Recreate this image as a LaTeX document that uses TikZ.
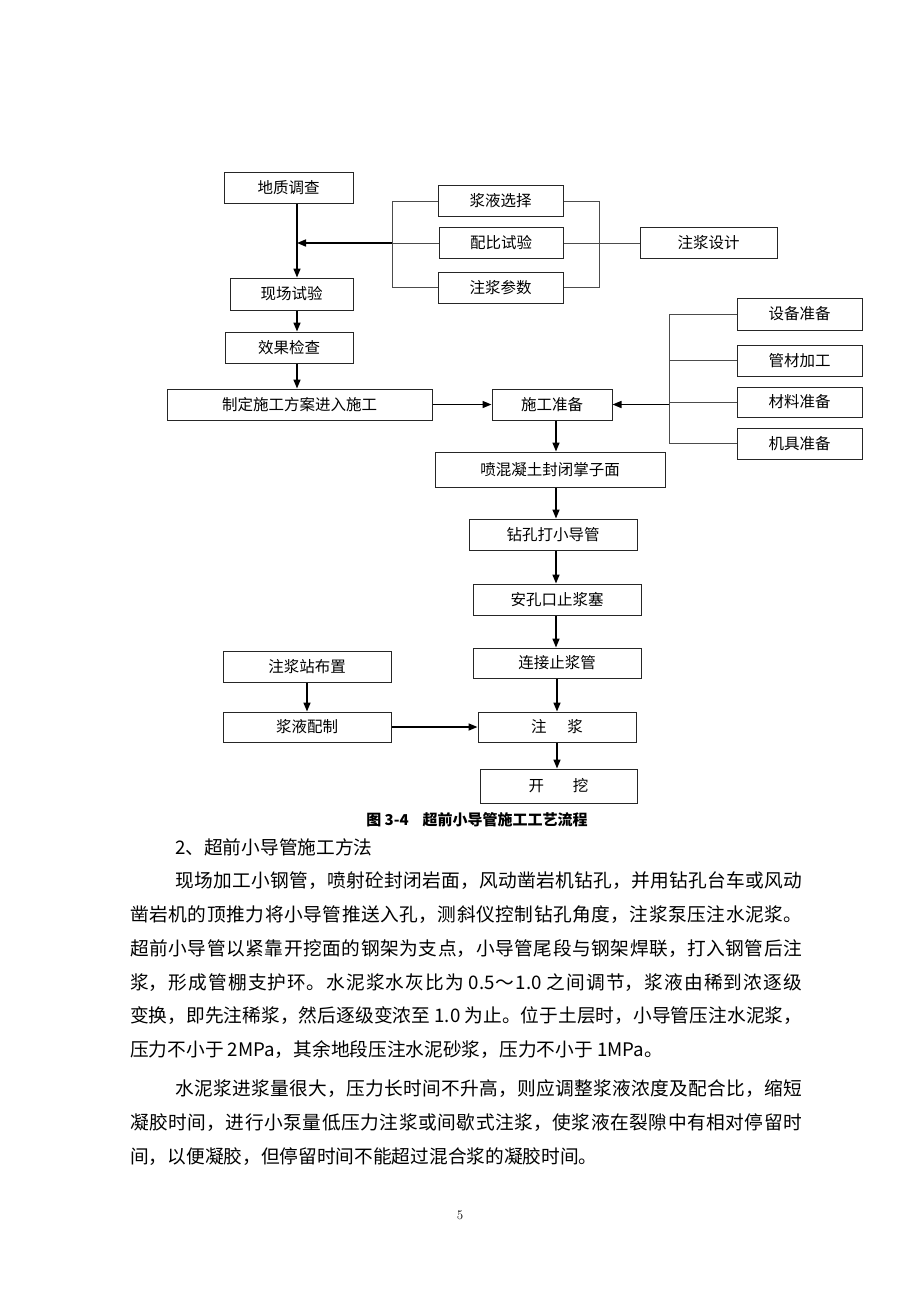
\documentclass[tikz,border=0pt]{standalone}
\usepackage{fontspec}
\newfontfamily\cjk{Noto Sans CJK SC}
\usetikzlibrary{arrows.meta}
\newcommand\jline[2]{\parbox{#1}{\XeTeXlinebreaklocale "zh"\XeTeXlinebreakskip=0pt plus 4pt\parfillskip=0pt\noindent #2}}
\tikzset{
  box/.style={draw=black!85, line width=1pt, inner sep=0pt, font=\cjk\fontsize{15.5}{18}\selectfont},
  arr/.style={line width=1.6pt, -{Triangle[length=9pt,width=7pt]}},
  thinln/.style={draw=black!70, line width=0.9pt},
  para/.style={inner sep=0pt, anchor=west, font=\cjk\fontsize{18.7}{22}\selectfont},
}
\begin{document}
\begin{tikzpicture}[x=1pt,y=-1pt]
\fill[white] (0,0) rectangle (920,1302);
\useasboundingbox (0,0) rectangle (920,1302);

% boxes
\node[box, minimum width=129pt, minimum height=31pt] (dz) at (288.5,187.5) {地质调查};
\node[box, minimum width=123pt, minimum height=32pt] (xc) at (291.5,294) {现场试验};
\node[box, minimum width=125pt, minimum height=31pt] (jy) at (500.5,201) {浆液选择};
\node[box, minimum width=124pt, minimum height=31pt] (pb) at (501,243) {配比试验};
\node[box, minimum width=125pt, minimum height=31pt] (zc) at (500.5,287.5) {注浆参数};
\node[box, minimum width=137pt, minimum height=31pt] (zs) at (708.5,243) {注浆设计};
\node[box, minimum width=128pt, minimum height=31pt] (xg) at (289,347.5) {效果检查};
\node[box, minimum width=265pt, minimum height=31pt] (zd) at (299.5,404.5) {制定施工方案进入施工};
\node[box, minimum width=120pt, minimum height=31pt] (sg) at (552,404.5) {施工准备};
\node[box, minimum width=125pt, minimum height=32pt] (sb) at (799.5,314) {设备准备};
\node[box, minimum width=125pt, minimum height=31pt] (gc) at (799.5,360.5) {管材加工};
\node[box, minimum width=125pt, minimum height=30pt] (cl) at (799.5,402) {材料准备};
\node[box, minimum width=125pt, minimum height=31pt] (jj) at (799.5,443.5) {机具准备};
\node[box, minimum width=230pt, minimum height=35pt] (ph) at (550,469.5) {喷混凝土封闭掌子面};
\node[box, minimum width=168pt, minimum height=31pt] (zk) at (553,534.5) {钻孔打小导管};
\node[box, minimum width=168pt, minimum height=31pt] (ak) at (557,599.5) {安孔口止浆塞};
\node[box, minimum width=168pt, minimum height=30pt] (lj) at (557,663) {连接止浆管};
\node[box, minimum width=168pt, minimum height=31pt] (zz) at (307,666.5) {注浆站布置};
\node[box, minimum width=168pt, minimum height=30pt] (jp) at (307,727) {浆液配制};
\node[box, minimum width=158pt, minimum height=30pt] (zj) at (557,727) {注\hspace{21pt}浆};
\node[box, minimum width=157pt, minimum height=34pt] (kw) at (558.5,786) {开\hspace{29pt}挖};

% axes for connectors
\coordinate (aL) at (297,0);
\coordinate (bl) at (392,0);
\coordinate (br) at (599,0);
\coordinate (bg) at (669,0);
\coordinate (aM) at (556,0);

% left column
\draw[arr] (dz.south -| aL) -- (xc.north -| aL);
\draw[arr] (xc.south -| aL) -- (xg.north -| aL);
\draw[arr] (xg.south -| aL) -- (zd.north -| aL);

% grouting design brackets
\draw[thinln] (jy.west) -- (jy.west -| bl) -- (zc.west -| bl) -- (zc.west);
\draw[thinln] (pb.west) -- (pb.west -| bl);
\draw[arr] (pb.west -| bl) -- (pb.west -| aL);
\draw[thinln] (jy.east) -- (jy.east -| br) -- (zc.east -| br) -- (zc.east);
\draw[thinln] (pb.east) -- (zs.west);

% preparation bracket
\draw[thinln] (sb.west) -- (sb.west -| bg) -- (jj.west -| bg) -- (jj.west);
\draw[thinln] (gc.west) -- (gc.west -| bg);
\draw[thinln] (cl.west) -- (cl.west -| bg);
\draw[arr] (sg.east -| bg) -- (sg.east);
\draw[arr] (zd.east) -- (sg.west);

% main column
\draw[arr] (sg.south -| aM) -- (ph.north -| aM);
\draw[arr] (ph.south -| aM) -- (zk.north -| aM);
\draw[arr] (zk.south -| aM) -- (ak.north -| aM);
\draw[arr] (ak.south -| aM) -- (lj.north -| aM);
\draw[arr] (lj.south) -- (zj.north);
\draw[arr] (zj.south) -- (zj.south |- kw.north);
\draw[arr] (zz.south) -- (jp.north);
\draw[arr] (jp.east) -- (zj.west);

% caption
\node[inner sep=0pt, font=\cjk\bfseries\fontsize{15}{18}\selectfont] (cap) at (477,820) {图 3-4\hspace{14pt}超前小导管施工工艺流程};

% body text
\node[para] (h2) at (175,847) {2、超前小导管施工方法};
\node[para] (p1) at (175,881) {\jline{627pt}{现场加工小钢管，喷射砼封闭岩面，风动凿岩机钻孔，并用钻孔台车或风动}};
\node[para] (p2) at (130,915) {\jline{672pt}{凿岩机的顶推力将小导管推送入孔，测斜仪控制钻孔角度，注浆泵压注水泥浆。}};
\node[para] (p3) at (130,949) {\jline{672pt}{超前小导管以紧靠开挖面的钢架为支点，小导管尾段与钢架焊联，打入钢管后注}};
\node[para] (p4) at (130,983) {\jline{672pt}{浆，形成管棚支护环。水泥浆水灰比为 0.5～1.0 之间调节，浆液由稀到浓逐级}};
\node[para] (p5) at (130,1016) {\jline{672pt}{变换，即先注稀浆，然后逐级变浓至 1.0 为止。位于土层时，小导管压注水泥浆，}};
\node[para] (p6) at (130,1050) {压力不小于 2MPa，其余地段压注水泥砂浆，压力不小于 1MPa。};
\node[para] (p7) at (175,1089) {\jline{627pt}{水泥浆进浆量很大，压力长时间不升高，则应调整浆液浓度及配合比，缩短}};
\node[para] (p8) at (130,1123) {\jline{672pt}{凝胶时间，进行小泵量低压力注浆或间歇式注浆，使浆液在裂隙中有相对停留时}};
\node[para] (p9) at (130,1157) {间，以便凝胶，但停留时间不能超过混合浆的凝胶时间。};
\node[inner sep=0pt, font=\fontsize{13}{15}\selectfont] (pg) at (460,1215) {5};
\end{tikzpicture}
\end{document}
